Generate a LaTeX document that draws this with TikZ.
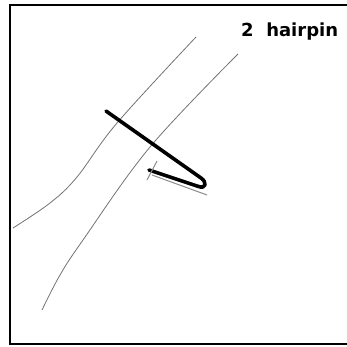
\documentclass[tikz,border=0pt]{standalone}
\usepackage{fontspec}
\setmainfont{DejaVu Sans}
\begin{document}
\begin{tikzpicture}[x=1pt,y=-1pt,
  vessel/.style={draw=black!55,line width=0.8pt},
  pin/.style={draw=black,line width=3.6pt,line cap=round,line join=round},
  motion/.style={draw=black!45,line width=1pt},
  frame/.style={draw=black,line width=2pt},
  label/.style={font=\bfseries\fontsize{18}{20}\selectfont,anchor=base west,inner sep=0pt}]
\useasboundingbox (0,0) rectangle (347,346);
\draw[frame] (10,5) rectangle (352,344);
% two edges of the vessel
\draw[vessel] plot[smooth,tension=0.6] coordinates {(13,228) (50,203) (77,177) (117,123) (196,37)};
\draw[vessel] plot[smooth,tension=0.6] coordinates {(42,310) (60,275) (83,240) (150,147) (238,54)};
% hairpin
\draw[pin] (106,111) -- (201,178) .. controls (207,182) and (207,190) .. (197,186) -- (149,170);
% motion arrow
\coordinate (a1) at (207,195);
\coordinate (a2) at (152,175);
\coordinate (b1) at (147,180);
\coordinate (b2) at (157,161);
\draw[motion] (a1) -- (a2);
\draw[motion] (b1) -- (b2);
\node[label] (title) at (241,36) {2\ \ hairpin};
\end{tikzpicture}
\end{document}
